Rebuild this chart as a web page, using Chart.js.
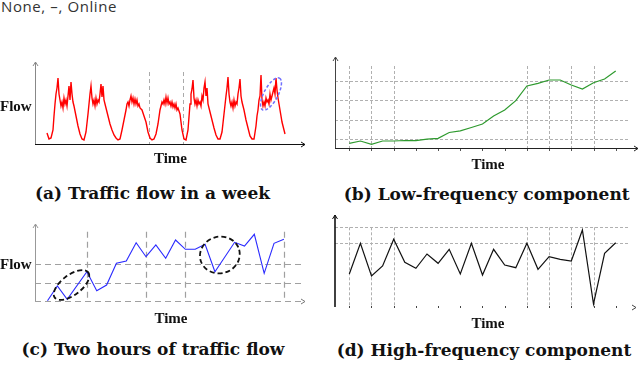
<!DOCTYPE html>
<html><head><meta charset="utf-8">
<script src="https://cdn.jsdelivr.net/npm/chart.js@4.4.0/dist/chart.umd.min.js"></script>
<style>
html,body{margin:0;padding:0;background:#fff;}
#wrap{position:relative;width:640px;height:369px;overflow:hidden;background:#fff;}
canvas{position:absolute;}
.t{position:absolute;white-space:nowrap;line-height:1;}
.lbl{font-family:"Liberation Serif",serif;font-weight:bold;font-size:15px;color:#111;}
.cap{font-family:"DejaVu Serif",serif;font-weight:bold;font-size:17px;color:#111;}
.c{transform:translateX(-50%);}
#hdr{font-family:"Open Sans",sans-serif;font-size:15px;letter-spacing:0.6px;color:#333;left:1px;top:-0.6px;}
</style></head><body>
<div id="wrap">
<div class="t" id="hdr">None, –, Online</div>
<canvas id="ca" width="320" height="110" style="left:0;top:50px"></canvas>
<canvas id="cb" width="320" height="110" style="left:320px;top:45px"></canvas>
<canvas id="cc" width="320" height="100" style="left:0;top:215px"></canvas>
<canvas id="cd" width="320" height="106" style="left:320px;top:208px"></canvas>
<div class="t lbl" style="left:0;top:99px">Flow</div>
<div class="t lbl c" style="left:170.5px;top:150.7px">Time</div>
<div class="t lbl c" style="left:488px;top:157.4px">Time</div>
<div class="t lbl" style="left:0;top:257.4px">Flow</div>
<div class="t lbl c" style="left:171px;top:310.7px">Time</div>
<div class="t lbl c" style="left:488px;top:316.4px">Time</div>
<div class="t cap c" style="left:152.5px;top:184.9px">(a) Traffic flow in a week</div>
<div class="t cap c" style="left:486.7px;top:185.6px">(b) Low-frequency component</div>
<div class="t cap c" style="left:153px;top:341.3px">(c) Two hours of traffic flow</div>
<div class="t cap c" style="left:484px;top:342.3px">(d) High-frequency component</div>
</div>
<script>
// ---------- (a) Traffic flow in a week ----------
const weekTime = [
  0,2,4,6,7,8,9,10,11,12,13,14,15,16,17,18,19,20,21,22,23,24,25,26,27,29,31,33,35,37,
  39,41,43,44,45,46,47,48,49,50,51,52,53,54,55,56,57,58,59,61,63,65,67,69,71,73,
  75,77,79,80,81,82,83,84,85,86,87,88,89,90,91,92,93,95,97,99,101,103,105,107,
  109,111,113,114,115,116,117,118,119,120,121,122,123,124,125,126,127,128,129,130,131,133,135,137,139,
  141,143,144,145,146,147,148,149,150,151,152,153,154,155,156,157,158,159,160,161,163,165,167,169,171,173,
  175,177,179,180,181,182,183,184,185,186,187,188,189,190,191,192,193,194,195,196,197,199,201,203,205,207,
  209,210,211,212,213,214,215,216,217,218,219,220,221,222,223,224,225,226,227,228,229,230,231,232,233,235,237,238
];
const weekFlow = [
  11,5,6,14,28,40,50,56,66,50,44,38,42,36,46,40,44,38,48,58,44,62,50,42,38,28,18,10,5,4,
  12,30,50,58,46,40,44,38,46,40,44,42,50,60,47,58,44,40,36,28,20,14,9,6,4,5,
  14,24,34,40,42,38,44,48,42,46,40,45,40,44,38,40,36,34,28,22,12,6,4,5,
  10,20,34,38,42,40,44,40,47,41,46,40,42,38,42,37,40,36,40,34,36,30,14,5,4,
  14,40,50,55,64,46,40,44,38,44,40,42,38,48,44,56,62,48,56,40,32,24,16,9,5,5,
  12,30,48,56,67,50,42,38,42,36,44,38,42,40,50,56,65,48,42,38,34,24,16,8,5,5,
  18,28,34,44,48,69,44,38,42,38,46,42,44,40,50,44,48,52,56,50,66,54,46,40,34,22,14,10
];
const weekDividers = [102, 136];

// ---------- (b) Low-frequency component ----------
const lowIndex = [0,1,2,3,4,5,6,7,8,9,10,11,12,13,14,15,16,17,18,19,20,21,22,23,24];
const lowValues = [4.7,7,3.7,7,7,7.5,7.3,8.8,9.7,15.5,17.2,20.5,24,32,38,47.3,62,64.7,68,68,63,59,65.3,69,77];
const lowGridValues = [9, 28, 48, 67];
const lowGridIndex = [0, 2, 4, 16, 18, 20, 22];
const tickIndex = [0,2,4,6,8,10,12,14,16,18,20,22,24];

// ---------- (c) Two hours of traffic flow ----------
const twoHourIndex = [0,1,2,4,5,6,7,8,9,10,11,12,13,14,15,16,17,19,20,21,22,23,24];
const twoHourFlow = [0.3,15,1.7,29.3,10.3,16,37.7,40,58.3,44.3,56,42.7,61,51.7,51.7,56.7,29.3,58.7,55,66.7,27.7,57.7,61.7];
const twoHourGridValues = [0, 18.3, 36.7];
const twoHourGridIndex = [4, 10, 14, 24];

// ---------- (d) High-frequency component ----------
const highIndex = lowIndex;
const highValues = [33,63.7,31,41,67.7,44.7,38.7,53,43.7,57.7,33,63.7,32,57.7,42,39.3,63.7,37.7,50.3,47.7,46,77,3,53.7,64.3];
const highGridValues = [63.7, 79.7];

// ---------- helpers ----------
function line(ctx,x1,y1,x2,y2,color,w,dash){
  ctx.save();ctx.strokeStyle=color;ctx.lineWidth=w;ctx.setLineDash(dash||[]);
  ctx.beginPath();ctx.moveTo(x1,y1);ctx.lineTo(x2,y2);ctx.stroke();ctx.restore();
}
function arrowUp(ctx,x,y,color){
  ctx.save();ctx.strokeStyle=color;ctx.lineWidth=1;ctx.beginPath();
  ctx.moveTo(x-2.5,y+4);ctx.lineTo(x,y);ctx.lineTo(x+2.5,y+4);ctx.stroke();ctx.restore();
}
function arrowRight(ctx,x,y,color){
  ctx.save();ctx.strokeStyle=color;ctx.lineWidth=1;ctx.beginPath();
  ctx.moveTo(x-4,y-2.5);ctx.lineTo(x,y);ctx.lineTo(x-4,y+2.5);ctx.stroke();ctx.restore();
}
function ell(ctx,cx,cy,rx,ry,rot,color,w,dash){
  ctx.save();ctx.strokeStyle=color;ctx.lineWidth=w;ctx.setLineDash(dash);
  ctx.beginPath();ctx.ellipse(cx,cy,rx,ry,rot*Math.PI/180,0,Math.PI*2);ctx.stroke();ctx.restore();
}
const P = v => Math.round(v)+0.5;

function makeChart(id, pts, color, width, xr, yr, pad, deco){
  return new Chart(document.getElementById(id), {
    type:'line',
    data:{datasets:[{data:pts,borderColor:color,borderWidth:width,pointRadius:0,tension:0,fill:false}]},
    options:{
      responsive:false, animation:false, devicePixelRatio:1,
      layout:{padding:pad},
      plugins:{legend:{display:false},tooltip:{enabled:false},title:{display:false}},
      scales:{
        x:{type:'linear',display:false,min:xr[0],max:xr[1]},
        y:{type:'linear',display:false,min:yr[0],max:yr[1]}
      }
    },
    plugins:[deco]
  });
}

// (a)
makeChart('ca', weekTime.map((t,i)=>({x:t,y:weekFlow[i]})), '#ff0000', 1.4,
  [-12,258],[0,82],{left:35,right:15,top:12,bottom:16},{
  id:'decoA',
  beforeDatasetsDraw(c){
    const {ctx,scales:{x,y}}=c;
    weekDividers.forEach(v=>{const X=P(x.getPixelForValue(v));line(ctx,X,y.getPixelForValue(72),X,y.bottom,'#aaaaaa',1,[4,3]);});
  },
  afterDatasetsDraw(c){
    const {ctx,chartArea:a,scales:{x,y}}=c;
    ell(ctx,x.getPixelForValue(224),y.getPixelForValue(50),18,7,-62,'#7070ff',1.5,[3,2]);
    line(ctx,P(a.left),a.bottom,P(a.left),a.top,'#888',1);
    arrowUp(ctx,P(a.left),a.top,'#888');
    line(ctx,a.left,P(a.bottom),a.right,P(a.bottom),'#111',1.2);
    arrowRight(ctx,a.right,P(a.bottom),'#111');
  }
});

// (b)
makeChart('cb', lowIndex.map((t,i)=>({x:t,y:lowValues[i]})), '#2e9a2e', 1.2,
  [-1.288,25.108],[0,91],{left:15,right:12,top:12,bottom:7},{
  id:'decoB',
  beforeDatasetsDraw(c){
    const {ctx,chartArea:a,scales:{x,y}}=c;
    lowGridValues.forEach(v=>{const Y=P(y.getPixelForValue(v));line(ctx,a.left,Y,a.right,Y,'#b0b0b0',1,[3,2]);});
    lowGridIndex.forEach(v=>{const X=P(x.getPixelForValue(v));line(ctx,X,y.getPixelForValue(82),X,a.bottom,'#b0b0b0',1,[3,2]);});
  },
  afterDatasetsDraw(c){
    const {ctx,chartArea:a,scales:{x,y}}=c;
    tickIndex.forEach(v=>{const X=P(x.getPixelForValue(v));line(ctx,X,a.bottom,X,a.bottom+3,'#555',1);});
    line(ctx,P(a.left),a.bottom,P(a.left),a.top,'#444',1);
    arrowUp(ctx,P(a.left),a.top,'#444');
    line(ctx,a.left,P(a.bottom),a.right+10,P(a.bottom),'#222',1.2);
    arrowRight(ctx,a.right+10,P(a.bottom),'#222');
  }
});

// (c)
makeChart('cc', twoHourIndex.map((t,i)=>({x:t,y:twoHourFlow[i]})), '#2a2aff', 1.1,
  [-1.269,25.84],[0,77],{left:35,right:18,top:9,bottom:14},{
  id:'decoC',
  beforeDatasetsDraw(c){
    const {ctx,chartArea:a,scales:{x,y}}=c;
    twoHourGridValues.forEach(v=>{const Y=P(y.getPixelForValue(v));line(ctx,a.left,Y,a.right,Y,'#a0a0a0',1.2,[6,4]);});
    twoHourGridIndex.forEach(v=>{const X=P(x.getPixelForValue(v));line(ctx,X,y.getPixelForValue(69.3),X,a.bottom,'#a0a0a0',1.2,[6,4]);});
  },
  afterDatasetsDraw(c){
    const {ctx,chartArea:a,scales:{x,y}}=c;
    ell(ctx,x.getPixelForValue(2.44),y.getPixelForValue(16),21,10,-37,'#111',1.8,[5,3]);
    ell(ctx,x.getPixelForValue(17.5),y.getPixelForValue(46),20,18.3,-15,'#111',1.8,[5,3]);
    line(ctx,P(a.left),a.bottom,P(a.left),a.top,'#999',1);
    arrowUp(ctx,P(a.left),a.top,'#999');
    arrowRight(ctx,a.right+3,P(a.bottom),'#777');
  }
});

// (d)
makeChart('cd', highIndex.map((t,i)=>({x:t,y:highValues[i]})), '#111111', 1.2,
  [-1.288,25.108],[0,92],{left:15,right:12,top:7,bottom:7},{
  id:'decoD',
  beforeDatasetsDraw(c){
    const {ctx,chartArea:a,scales:{x,y}}=c;
    highGridValues.forEach(v=>{const Y=P(y.getPixelForValue(v));line(ctx,a.left,Y,a.right,Y,'#b0b0b0',1,[3,2]);});
    lowGridIndex.forEach(v=>{const X=P(x.getPixelForValue(v));line(ctx,X,y.getPixelForValue(79.7),X,a.bottom,'#b0b0b0',1,[3,2]);});
  },
  afterDatasetsDraw(c){
    const {ctx,chartArea:a,scales:{x,y}}=c;
    ctx.save();ctx.fillStyle='#444';
    tickIndex.forEach(v=>{const X=Math.round(x.getPixelForValue(v));ctx.fillRect(X,a.bottom-1,1,2);});
    ctx.restore();
    line(ctx,P(a.left)-0.5,a.bottom,P(a.left)-0.5,a.top,'#111',1.6);
    arrowUp(ctx,P(a.left)-0.5,a.top,'#111');
    arrowRight(ctx,a.right+8,P(a.bottom),'#444');
  }
});
</script>
</body></html>
